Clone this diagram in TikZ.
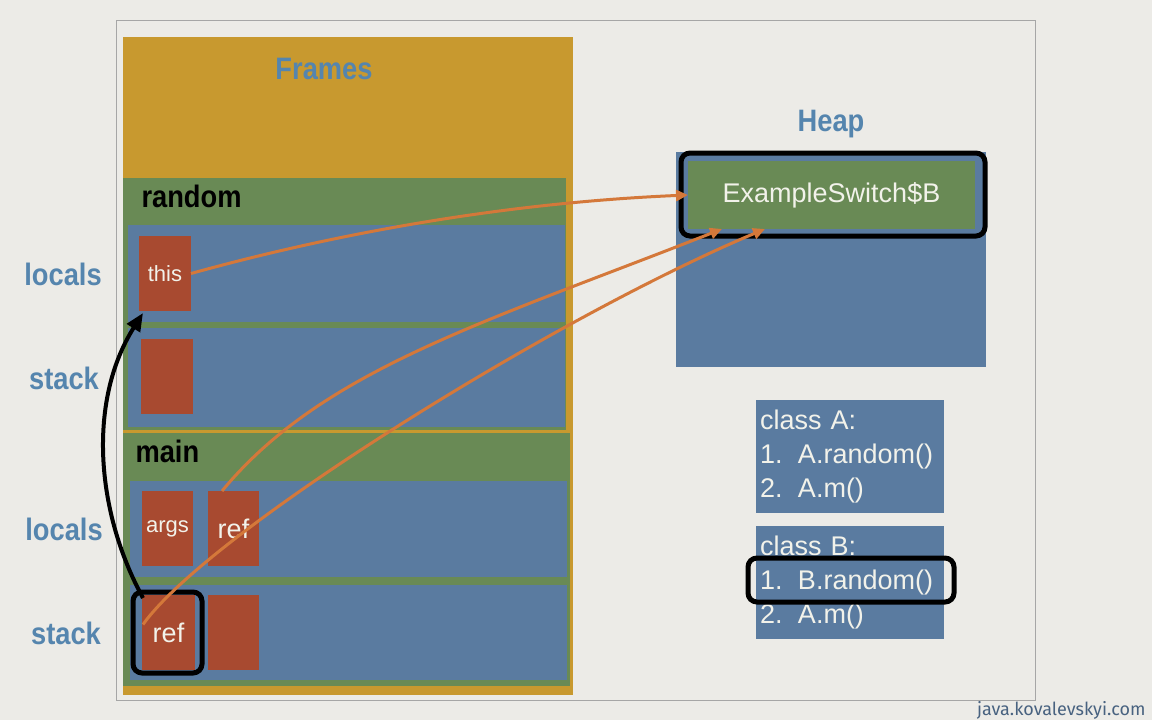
\documentclass[tikz,border=0pt]{standalone}
\usepackage{fontspec}
\setmainfont{Liberation Sans}
\newfontfamily\headfont{Liberation Sans}[FakeStretch=0.88]
\newfontfamily\urlfont{Fira Sans}
\usetikzlibrary{positioning, calc, arrows.meta}

\definecolor{paper}{HTML}{ECEBE7}
\definecolor{framegold}{HTML}{C8992F}
\definecolor{framegreen}{HTML}{698A55}
\definecolor{slotblue}{HTML}{5A7BA0}
\definecolor{varred}{HTML}{A84A30}
\definecolor{refline}{HTML}{D4783A}
\definecolor{labelblue}{HTML}{5585AE}
\definecolor{chalk}{HTML}{F2F2EA}

\newcommand\headsize{\fontsize{31}{36}\selectfont}
\newcommand\varsize{\fontsize{22}{26}\selectfont}
\newcommand\objsize{\fontsize{27}{34}\selectfont}

\tikzset{
  area/.style={rectangle, inner sep=0pt, outer sep=0pt, anchor=north west},
  var/.style={area, fill=varred, text=chalk, font=\varsize},
  title/.style={font=\headfont\bfseries\headsize},
  side/.style={title, text=labelblue},
  hilite/.style={area, draw=black, line width=5pt, rounded corners=9pt},
  ptr/.style={draw=refline, line width=3pt, -{Triangle[length=12pt,width=11pt]}},
  jump/.style={draw=black, line width=4pt, -{Triangle[length=18pt,width=15pt]}}
}

\begin{document}
\begin{tikzpicture}[x=1pt, y=-1pt]

    \fill[paper] (0,0) rectangle (1152,720);
    \useasboundingbox (0,0) rectangle (1152,720);
    \node[area, draw=black!35, line width=1pt, minimum width=919, minimum height=680] (slide) at (116,20) {};

    %Frames
    \node[area, fill=framegold, minimum width=450, minimum height=658] (frames) at (123,37) {};
    \node[title, text=labelblue] (framestitle) at (324,69) {Frames};

    \node[area, fill=framegreen, minimum width=443, minimum height=252] (rnd) at (123,178) {};
    \node[area, fill=slotblue, minimum width=437, minimum height=97] (rndlocals) at (128,225) {};
    \node[area, fill=slotblue, minimum width=437, minimum height=99] (rndstack) at (128,328) {};
    \node[title, anchor=west] (rndname) at (138,196) {random};

    \node[area, fill=framegreen, minimum width=447, minimum height=253] (mainfr) at (123,433) {};
    \node[area, fill=slotblue, minimum width=437, minimum height=96] (mainlocals) at (130,481) {};
    \node[area, fill=slotblue, minimum width=437, minimum height=95] (mainstack) at (130,585) {};
    \node[title, anchor=west] (mainname) at (132,451) {main};

    %Variables
    \node[var, minimum width=52, minimum height=75] (this) at (139,236) {};
    \node[text=chalk, font=\varsize] at (this.center) {this};
    \node[var, minimum width=52, minimum height=75] (rndslot) at (141,339) {};
    \node[var, minimum width=51, minimum height=75] (args) at (142,491) {};
    \node[text=chalk, font=\varsize] at (args.center) {args};
    \node[var, minimum width=51, minimum height=75] (ref) at (208,491) {};
    \node[text=chalk, font=\objsize] at (ref.center) {ref};
    \node[var, minimum width=53, minimum height=75] (stackref) at (142,595) {};
    \node[text=chalk, font=\objsize] at (stackref.center) {ref};
    \node[var, minimum width=51, minimum height=75] (stackslot) at (208,595) {};

    %Side labels
    \node[side] (l1) at (63,274) {locals};
    \node[side] (s1) at (64,378) {stack};
    \node[side] (l2) at (64,529) {locals};
    \node[side] (s2) at (66,633) {stack};

    %Heap
    \node[title, text=labelblue] (heaptitle) at (831,124) {Heap};
    \node[area, fill=slotblue, minimum width=310, minimum height=215] (heap) at (676,152) {};
    \node[area, fill=framegreen, minimum width=287, minimum height=68] (obj) at (688,161) {};
    \node[text=chalk, font=\objsize] at (obj.center) {ExampleSwitch\$B};

    %Classes
    \node[area, fill=slotblue, minimum width=188, minimum height=113, text width=180, inner xsep=4,
          align=left, text=chalk, font=\objsize] (clsA) at (756,400)
          {class A:\\\makebox[38pt][l]{1.}A.random()\\\makebox[38pt][l]{2.}A.m()};
    \node[area, fill=slotblue, minimum width=188, minimum height=113, text width=180, inner xsep=4,
          align=left, text=chalk, font=\objsize] (clsB) at (756,526)
          {class B:\\\makebox[38pt][l]{1.}B.random()\\\makebox[38pt][l]{2.}A.m()};

    %Highlights
    \node[hilite, minimum width=69, minimum height=81] (hiref) at (133,592) {};
    \node[hilite, minimum width=304, minimum height=83] (hiobj) at (681,153) {};
    \node[hilite, minimum width=206, minimum height=44] (himeth) at (748,558) {};

    %Pointers
    \draw[ptr] (this.east) .. controls (330,235) and (500,203) .. (obj.west);
    \draw[ptr] ($(ref.north west)+(14,0)$) .. controls (322,370) and (483,323) .. ($(obj.south west)+(34,0)$);
    \draw[ptr] ($(stackref.west)+(1,-8)$) .. controls (209,532) and (555,317) .. ($(obj.south west)+(77,0)$);
    \draw[jump] ($(stackref.north west)+(1,3)$) .. controls (95,510) and (88,400) .. ($(this.south west)+(4,2)$);

    \node[text=slotblue!80!black, font=\urlfont\fontsize{18}{21}\selectfont, anchor=east] (url) at (1149,710) {java.kovalevskyi.com};
\end{tikzpicture}
\end{document}
